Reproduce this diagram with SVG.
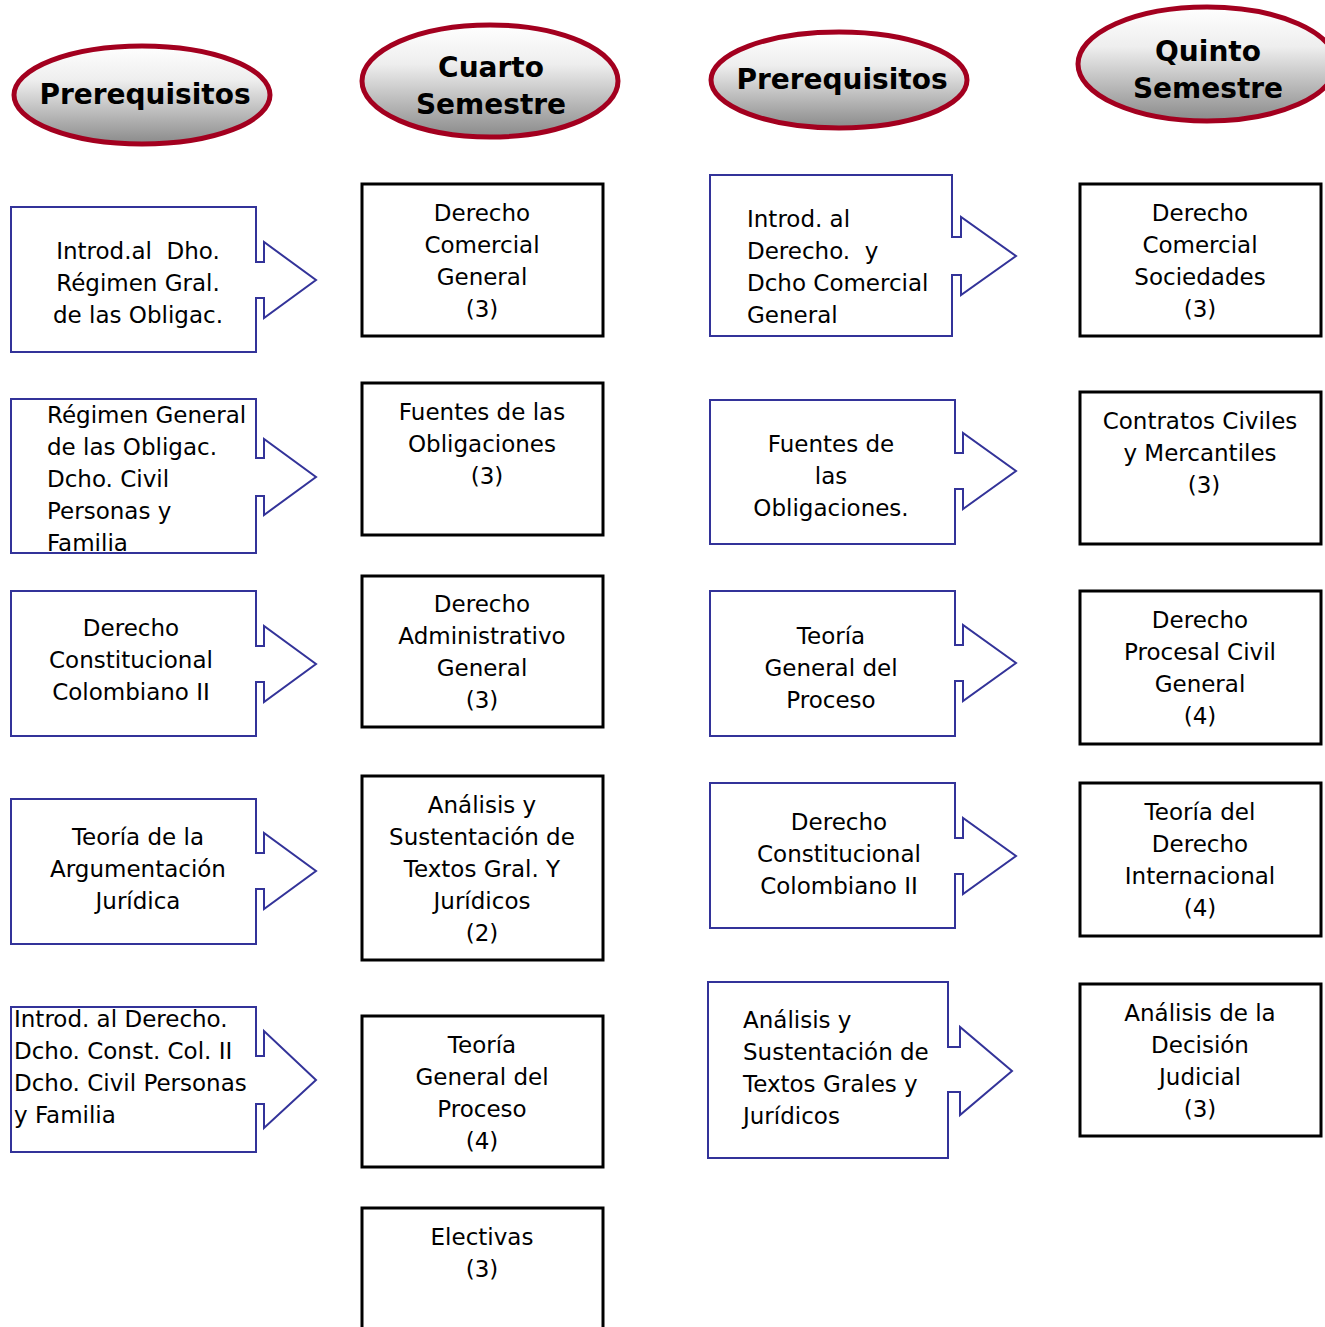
<svg xmlns="http://www.w3.org/2000/svg" width="1325" height="1327" viewBox="0 0 1325 1327">
<style>
.cal{fill:#fff;stroke:#333399;stroke-width:2}
.box{fill:#fff;stroke:#000;stroke-width:3}
.ell{fill:url(#hg);stroke:#A3001F;stroke-width:5}
.t{font-family:"DejaVu Sans","Liberation Sans",sans-serif;font-size:23px;fill:#000;white-space:pre}
.c{text-anchor:middle}
.h{font-family:"DejaVu Sans","Liberation Sans",sans-serif;font-size:28px;font-weight:bold;fill:#000;text-anchor:middle}
</style>
<defs>
<linearGradient id="hg" x1="0" y1="0" x2="0" y2="1">
<stop offset="0" stop-color="#ffffff"/>
<stop offset="0.35" stop-color="#eeeeee"/>
<stop offset="1" stop-color="#8a8a8a"/>
</linearGradient>
</defs>
<rect width="1325" height="1327" fill="#fff"/>

<g id="h1"><ellipse class="ell" cx="142" cy="95" rx="128" ry="49"/><text class="h" x="145" y="104">Prerequisitos</text></g>
<g id="h2"><ellipse class="ell" cx="490" cy="81" rx="128" ry="56"/><text class="h" x="491" y="77">Cuarto</text><text class="h" x="491" y="114">Semestre</text></g>
<g id="h3"><ellipse class="ell" cx="839" cy="80" rx="128" ry="48"/><text class="h" x="842" y="89">Prerequisitos</text></g>
<g id="h4"><ellipse class="ell" cx="1207" cy="64" rx="129" ry="57"/><text class="h" x="1208" y="61">Quinto</text><text class="h" x="1208" y="98">Semestre</text></g>

<g id="connectors"></g>

<g id="a1"><path class="cal" d="M11,207 H256 V262 H264 V242 L316,280 L264,318 V298 H256 V352 H11 Z"/>
<text class="t c" x="138" y="259" xml:space="preserve">Introd.al  Dho.</text><text class="t c" x="138" y="291">Régimen Gral.</text><text class="t c" x="138" y="323">de las Obligac.</text></g>
<g id="a2"><path class="cal" d="M11,399 H256 V458 H264 V439 L316,477 L264,515 V496 H256 V553 H11 Z"/>
<text class="t" x="47" y="423">Régimen General</text><text class="t" x="47" y="455">de las Obligac.</text><text class="t" x="47" y="487">Dcho. Civil</text><text class="t" x="47" y="519">Personas y</text><text class="t" x="47" y="551">Familia</text></g>
<g id="a3"><path class="cal" d="M11,591 H256 V646 H264 V626 L316,664 L264,702 V682 H256 V736 H11 Z"/>
<text class="t c" x="131" y="636">Derecho</text><text class="t c" x="131" y="668">Constitucional</text><text class="t c" x="131" y="700">Colombiano II</text></g>
<g id="a4"><path class="cal" d="M11,799 H256 V853 H264 V833 L316,871 L264,909 V889 H256 V944 H11 Z"/>
<text class="t c" x="138" y="845">Teoría de la</text><text class="t c" x="138" y="877">Argumentación</text><text class="t c" x="138" y="909">Jurídica</text></g>
<g id="a5"><path class="cal" d="M11,1007 H256 V1056 H264 V1031 L316,1080 L264,1128 V1104 H256 V1152 H11 Z"/>
<text class="t" x="14" y="1027">Introd. al Derecho.</text><text class="t" x="14" y="1059">Dcho. Const. Col. II</text><text class="t" x="14" y="1091">Dcho. Civil Personas</text><text class="t" x="14" y="1123">y Familia</text></g>

<g id="b1"><rect class="box" x="362" y="184" width="241" height="152"/>
<text class="t c" x="482" y="221">Derecho</text><text class="t c" x="482" y="253">Comercial</text><text class="t c" x="482" y="285">General</text><text class="t c" x="482" y="317">(3)</text></g>
<g id="b2"><rect class="box" x="362" y="383" width="241" height="152"/>
<text class="t c" x="482" y="420">Fuentes de las</text><text class="t c" x="482" y="452">Obligaciones</text><text class="t c" x="487" y="484">(3)</text></g>
<g id="b3"><rect class="box" x="362" y="576" width="241" height="151"/>
<text class="t c" x="482" y="612">Derecho</text><text class="t c" x="482" y="644">Administrativo</text><text class="t c" x="482" y="676">General</text><text class="t c" x="482" y="708">(3)</text></g>
<g id="b4"><rect class="box" x="362" y="776" width="241" height="184"/>
<text class="t c" x="482" y="813">Análisis y</text><text class="t c" x="482" y="845">Sustentación de</text><text class="t c" x="482" y="877">Textos Gral. Y</text><text class="t c" x="482" y="909">Jurídicos</text><text class="t c" x="482" y="941">(2)</text></g>
<g id="b5"><rect class="box" x="362" y="1016" width="241" height="151"/>
<text class="t c" x="482" y="1053">Teoría</text><text class="t c" x="482" y="1085">General del</text><text class="t c" x="482" y="1117">Proceso</text><text class="t c" x="482" y="1149">(4)</text></g>
<g id="b6"><rect class="box" x="362" y="1208" width="241" height="140"/>
<text class="t c" x="482" y="1245">Electivas</text><text class="t c" x="482" y="1277">(3)</text></g>

<g id="c1"><path class="cal" d="M710,175 H952 V237 H961 V217 L1016,256 L961,295 V275 H952 V336 H710 Z"/>
<text class="t" x="747" y="227">Introd. al</text><text class="t" x="747" y="259" xml:space="preserve">Derecho.  y</text><text class="t" x="747" y="291">Dcho Comercial</text><text class="t" x="747" y="323">General</text></g>
<g id="c2"><path class="cal" d="M710,400 H955 V453 H963 V433 L1016,471 L963,509 V489 H955 V544 H710 Z"/>
<text class="t c" x="831" y="452">Fuentes de</text><text class="t c" x="831" y="484">las</text><text class="t c" x="831" y="516">Obligaciones.</text></g>
<g id="c3"><path class="cal" d="M710,591 H955 V645 H963 V625 L1016,663 L963,701 V681 H955 V736 H710 Z"/>
<text class="t c" x="831" y="644">Teoría</text><text class="t c" x="831" y="676">General del</text><text class="t c" x="831" y="708">Proceso</text></g>
<g id="c4"><path class="cal" d="M710,783 H955 V838 H963 V818 L1016,856 L963,894 V874 H955 V928 H710 Z"/>
<text class="t c" x="839" y="830">Derecho</text><text class="t c" x="839" y="862">Constitucional</text><text class="t c" x="839" y="894">Colombiano II</text></g>
<g id="c5"><path class="cal" d="M708,982 H948 V1047 H960 V1027 L1012,1071 L960,1115 V1092 H948 V1158 H708 Z"/>
<text class="t" x="743" y="1028">Análisis y</text><text class="t" x="743" y="1060">Sustentación de</text><text class="t" x="743" y="1092">Textos Grales y</text><text class="t" x="743" y="1124">Jurídicos</text></g>

<g id="d1"><rect class="box" x="1080" y="184" width="241" height="152"/>
<text class="t c" x="1200" y="221">Derecho</text><text class="t c" x="1200" y="253">Comercial</text><text class="t c" x="1200" y="285">Sociedades</text><text class="t c" x="1200" y="317">(3)</text></g>
<g id="d2"><rect class="box" x="1080" y="392" width="241" height="152"/>
<text class="t c" x="1200" y="429">Contratos Civiles</text><text class="t c" x="1200" y="461">y Mercantiles</text><text class="t c" x="1204" y="493">(3)</text></g>
<g id="d3"><rect class="box" x="1080" y="591" width="241" height="153"/>
<text class="t c" x="1200" y="628">Derecho</text><text class="t c" x="1200" y="660">Procesal Civil</text><text class="t c" x="1200" y="692">General</text><text class="t c" x="1200" y="724">(4)</text></g>
<g id="d4"><rect class="box" x="1080" y="783" width="241" height="153"/>
<text class="t c" x="1200" y="820">Teoría del</text><text class="t c" x="1200" y="852">Derecho</text><text class="t c" x="1200" y="884">Internacional</text><text class="t c" x="1200" y="916">(4)</text></g>
<g id="d5"><rect class="box" x="1080" y="984" width="241" height="152"/>
<text class="t c" x="1200" y="1021">Análisis de la</text><text class="t c" x="1200" y="1053">Decisión</text><text class="t c" x="1200" y="1085">Judicial</text><text class="t c" x="1200" y="1117">(3)</text></g>
</svg>
